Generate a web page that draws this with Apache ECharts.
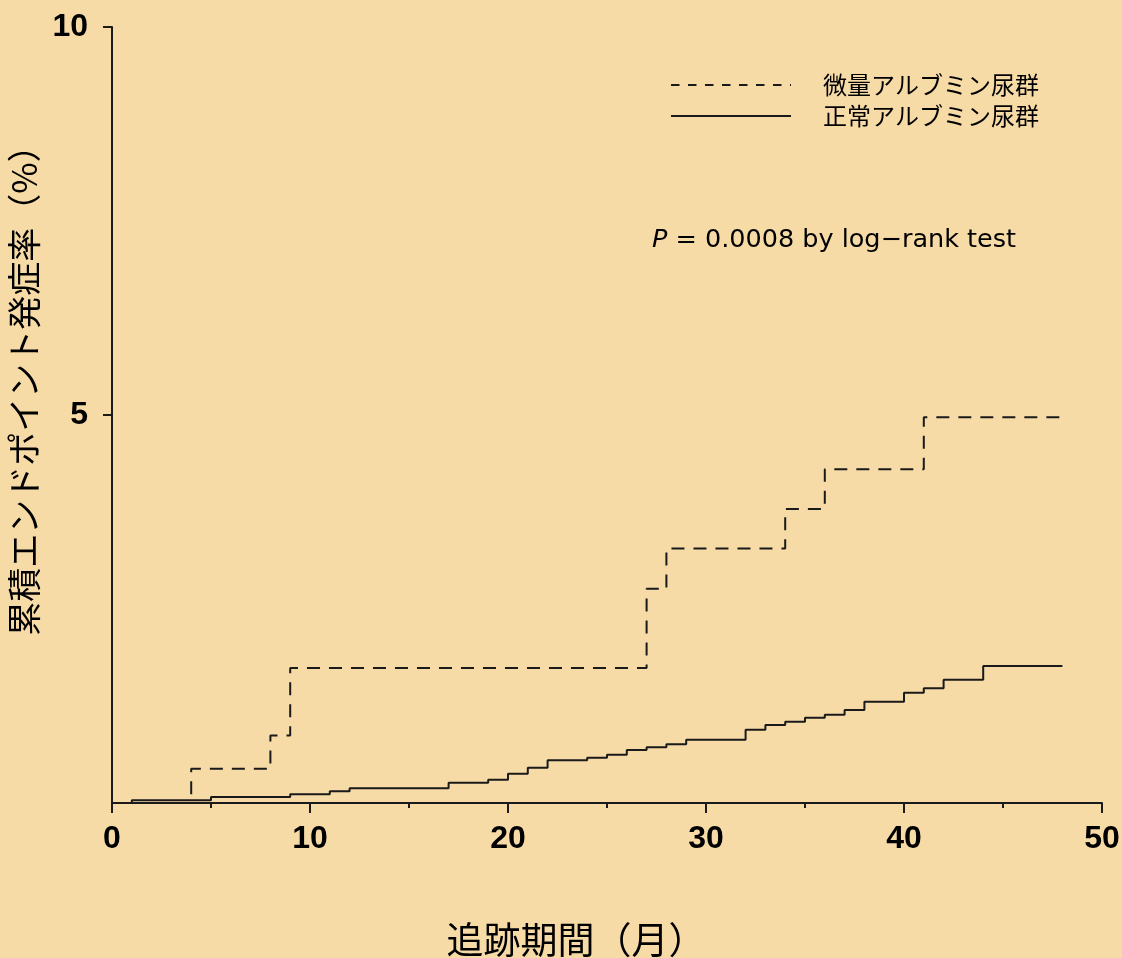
<!DOCTYPE html>
<html>
<head>
<meta charset="utf-8">
<script src="https://cdn.jsdelivr.net/npm/echarts@6/dist/echarts.min.js"></script>
<style>
  html, body { margin: 0; padding: 0; background: #f7dba7; }
  #chart { width: 1122px; height: 958px; }
</style>
</head>
<body>
<div id="chart"></div>
<script>
// Cumulative endpoint incidence (%) by follow-up month
const seriesNames = ['微量アルブミン尿群', '正常アルブミン尿群'];

const microTimes = [0, 4, 8, 9, 27, 28, 34, 36, 41, 48];
const microRates = [0, 0.44, 0.87, 1.74, 2.76, 3.28, 3.79, 4.30, 4.97, 4.97];

const normalTimes = [0, 1, 5, 9, 11, 12, 17, 19, 20, 21, 22, 24, 25, 26, 27, 28, 29, 32, 33, 34, 35, 36, 37, 38, 40, 41, 42, 44, 48];
const normalRates = [0, 0.035, 0.077, 0.112, 0.151, 0.189, 0.262, 0.300, 0.378, 0.455, 0.550, 0.584, 0.622, 0.683, 0.718, 0.756, 0.816, 0.945, 1.005, 1.048, 1.099, 1.138, 1.198, 1.305, 1.421, 1.478, 1.589, 1.765, 1.765];

const xTitle = '追跡期間（月）';
const yTitle = '累積エンドポイント発症率（%）';
const pNote = '= 0.0008 by log−rank test';

const pairs = (xs, ys) => xs.map((x, i) => [x, ys[i]]);

const ink = '#1a1a1a';
const cjk = '"Noto Sans CJK JP", "Noto Sans", sans-serif';
const tickFont = { fontFamily: '"Liberation Sans", Arial, sans-serif', fontWeight: 'bold', fontSize: 32, color: '#000' };

const chart = echarts.init(document.getElementById('chart'), null, { renderer: 'canvas' });

chart.setOption({
  backgroundColor: '#f7dba7',
  animation: false,
  grid: { left: 112, right: 20, top: 27, bottom: 155, containLabel: false, outerBoundsMode: 'none' },
  legend: {
    orient: 'vertical',
    left: 665,
    top: 68,
    itemWidth: 120,
    itemHeight: 28,
    itemGap: 7,
    formatter: '{t|{name}}',
    textStyle: {
      fontFamily: cjk, fontSize: 24, color: '#000',
      rich: { t: { fontFamily: cjk, fontSize: 24, color: '#000', padding: [0, 0, 0, 27] } }
    },
    data: [
      { name: seriesNames[0], itemStyle: { opacity: 0 }, lineStyle: { type: [8.5, 8.5], width: 2, color: ink, opacity: 1 } },
      { name: seriesNames[1], itemStyle: { opacity: 0 }, lineStyle: { type: 'solid', width: 2, color: ink, opacity: 1 } }
    ]
  },
  xAxis: {
    type: 'value',
    min: 0,
    max: 50,
    interval: 10,
    name: xTitle,
    nameLocation: 'middle',
    nameGap: 118,
    nameTextStyle: { fontFamily: cjk, fontSize: 37, color: '#000', padding: [0, 62, 0, 0] },
    axisLine: { lineStyle: { color: ink, width: 2 } },
    axisTick: { length: 10, lineStyle: { color: ink, width: 2 } },
    minorTick: { show: true, splitNumber: 2, length: 5, lineStyle: { color: ink, width: 2 } },
    splitLine: { show: false },
    axisLabel: Object.assign({ margin: 20 }, tickFont)
  },
  yAxis: {
    type: 'value',
    min: 0,
    max: 10,
    interval: 5,
    name: yTitle,
    nameLocation: 'middle',
    nameGap: 60,
    nameRotate: 90,
    nameTextStyle: { fontFamily: cjk, fontSize: 34, color: '#000', padding: [0, 0, 0, 66] },
    axisLine: { show: true, lineStyle: { color: ink, width: 2 } },
    axisTick: { show: true, length: 9, lineStyle: { color: ink, width: 2 } },
    splitLine: { show: false },
    axisLabel: Object.assign({ margin: 24, showMinLabel: false }, tickFont)
  },
  series: [
    {
      name: seriesNames[0],
      type: 'line',
      step: 'end',
      symbol: 'none',
      data: pairs(microTimes, microRates),
      lineStyle: { color: ink, width: 2, type: [13, 9] },
      itemStyle: { color: ink }
    },
    {
      name: seriesNames[1],
      type: 'line',
      step: 'end',
      symbol: 'none',
      data: pairs(normalTimes, normalRates),
      lineStyle: { color: ink, width: 2, type: 'solid' },
      itemStyle: { color: ink }
    }
  ],
  graphic: [
    {
      type: 'text',
      left: 652,
      top: 227,
      style: {
        text: '{p|P} ' + pNote,
        fill: '#000',
        font: '25.5px "DejaVu Sans", sans-serif',
        rich: {
          p: { fontStyle: 'italic', fontSize: 25.5, fontFamily: '"DejaVu Sans", sans-serif', fill: '#000' }
        }
      }
    }
  ]
});
</script>
</body>
</html>
